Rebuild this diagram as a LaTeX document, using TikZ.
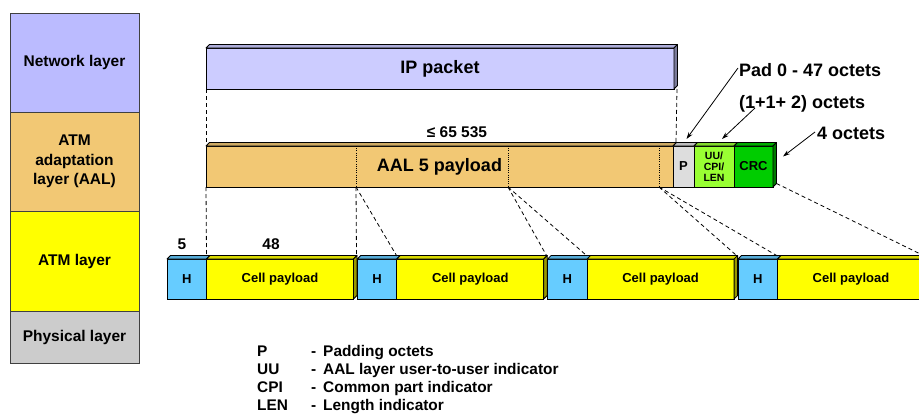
\documentclass[tikz,border=0pt]{standalone}
\usepackage{fontspec}
\setmainfont{Liberation Sans}
\usetikzlibrary{calc,arrows.meta}

\definecolor{netfill}{HTML}{BBBBFF}
\definecolor{ipfill}{HTML}{CCCCFF}
\definecolor{aalfill}{HTML}{F2C874}
\definecolor{atmfill}{HTML}{FFFF00}
\definecolor{phyfill}{HTML}{CCCCCC}
\definecolor{hdrfill}{HTML}{66CCFF}
\definecolor{padfill}{HTML}{DDDDDD}
\definecolor{uufill}{HTML}{99FF33}
\definecolor{crcfill}{HTML}{00CC00}

% depth of the drawn boxes
\newcommand\dep{3.5}
% top face of a box node: #1 node, #2 colour
\newcommand\topface[2]{%
  \filldraw[fill=#2!85!black, draw=black, line width=0.8pt, line join=round]
    (#1.north west) -- ++(\dep,-\dep) -- ($(#1.north east)+(\dep,-\dep)$)
    -- (#1.north east) -- cycle;}
% right face of a box node
\newcommand\sideface[2]{%
  \filldraw[fill=#2!60!black, draw=black, line width=0.8pt, line join=round]
    (#1.north east) -- ++(\dep,-\dep) -- ($(#1.south east)+(\dep,-\dep)$)
    -- (#1.south east) -- cycle;}

\tikzset{
  layerbox/.style={draw=black!75, line width=0.8pt, inner sep=0pt, outer sep=0pt,
    anchor=north west, minimum width=129pt, align=center,
    font=\fontsize{15.5}{19.5}\selectfont\bfseries},
  blk/.style={draw=black, line width=1pt, inner sep=0pt, outer sep=0pt,
    anchor=north west, align=center, minimum height=40pt},
  bigtxt/.style={font=\fontsize{18}{20}\selectfont\bfseries},
  smalltxt/.style={font=\fontsize{13}{15}\selectfont\bfseries},
  numtxt/.style={inner sep=0pt, anchor=base, font=\fontsize{15.5}{18}\selectfont\bfseries},
  calltxt/.style={inner sep=0pt, anchor=base west, font=\fontsize{18}{20}\selectfont\bfseries},
  legtxt/.style={inner sep=0pt, anchor=base west, font=\fontsize{15.4}{18}\selectfont\bfseries},
  dashln/.style={line width=0.8pt, dash pattern=on 4pt off 3pt},
  dotln/.style={line width=0.8pt, dash pattern=on 1pt off 1.2pt},
  callarrow/.style={line width=0.8pt, -{Stealth[length=7pt,width=4.5pt]}},
}

\begin{document}
\begin{tikzpicture}[x=1pt,y=-1pt]
\useasboundingbox (0,0) rectangle (919,415);
\clip (0,0) rectangle (919,415);

% protocol layer stack
\node[layerbox, fill=netfill, minimum height=99pt] (net) at (10,13) {Network layer};
\node[layerbox, fill=aalfill, minimum height=99pt] (aall) at (10,112) {ATM\\adaptation\\layer (AAL)};
\node[layerbox, fill=atmfill, minimum height=100pt] (atml) at (10,211) {ATM layer};
\node[layerbox, fill=phyfill, minimum height=52pt] (phy) at (10,311) {Physical layer};

% IP packet
\node[blk, bigtxt, fill=ipfill, minimum width=468pt, minimum height=41pt] (ip) at (206,48) {IP packet};
\topface{ip}{ipfill}
\sideface{ip}{ipfill}

% AAL 5 PDU
\node[blk, bigtxt, fill=aalfill, minimum width=467pt, minimum height=41pt] (aal) at (206,146) {AAL 5 payload};
\node[blk, smalltxt, fill=padfill, minimum width=21pt, minimum height=41pt] (pbx) at (aal.north east) {P};
\node[blk, fill=uufill, minimum width=40pt, minimum height=41pt,
      font=\fontsize{10.5}{11}\selectfont\bfseries] (uu) at (pbx.north east) {UU/\\CPI/\\LEN};
\node[blk, smalltxt, fill=crcfill, minimum width=39pt, minimum height=41pt] (crc) at (uu.north east) {CRC};
\topface{aal}{aalfill}
\topface{pbx}{padfill}
\topface{uu}{uufill}
\topface{crc}{crcfill}
\sideface{crc}{crcfill}

% cell boundaries inside the payload
\coordinate (d1t) at (356,146); \coordinate (d1b) at (356,187);
\coordinate (d2t) at (508,146); \coordinate (d2b) at (508,187);
\coordinate (d3t) at (659,146); \coordinate (d3b) at (659,187);
\draw[dotln] (d1t) -- (d1b);
\draw[dotln] (d2t) -- (d2b);
\draw[dotln] (d3t) -- (d3b);

% ATM cells
\foreach \i/\x in {1/167,2/357.3,3/547.6,4/738}{
  \node[blk, smalltxt, fill=hdrfill, minimum width=39.5pt] (h\i) at (\x,259) {H};
  \node[blk, smalltxt, fill=atmfill, minimum width=147pt] (c\i) at (h\i.north east) {Cell payload};
  \topface{h\i}{hdrfill}
  \topface{c\i}{atmfill}
  \sideface{c\i}{atmfill}
}

% mapping lines
\draw[dashln] (ip.south west) -- (aal.north west);
\draw[dashln] ($(ip.south east)+(3,0)$) -- ($(pbx.north west)+(3,-3.5)$);
\draw[dashln] (aal.south west) -- ($(c1.north west)+(0,-3)$);
\draw[dashln] (d1b) -- ($(c1.north east)+(3,-3)$);
\draw[dashln] (d1b) -- ($(c2.north west)+(0,-3)$);
\draw[dashln] (d2b) -- ($(c2.north east)+(3,-3)$);
\draw[dashln] (d2b) -- ($(c3.north west)+(0,-3)$);
\draw[dashln] (d3b) -- ($(c3.north east)+(3,-3)$);
\draw[dashln] (d3b) -- ($(c4.north west)+(0,-3)$);
\draw[dashln] ($(crc.south east)+(\dep,-\dep)$) -- ($(c4.north east)+(0,-3)$);

% sizes
\node[numtxt] (len) at (457,137) {≤ 65 535};
\node[numtxt] (n5) at (182,249) {5};
\node[numtxt] (n48) at (271,249) {48};

% trailer callouts
\node[calltxt] (padt) at (739,76) {Pad 0 - 47 octets};
\node[calltxt] (uut) at (739,108) {(1+1+ 2) octets};
\node[calltxt] (crct) at (817,139) {4 octets};
\coordinate (padfrom) at (738,68);
\coordinate (uufrom) at (755,108);
\coordinate (crcfrom) at (815,132);
\draw[callarrow] (padfrom) -- ($(pbx.north)+(3,-7)$);
\draw[callarrow] (uufrom) -- ($(uu.north)+(8,-7)$);
\draw[callarrow] (crcfrom) -- ($(crc.east)+(10,-10)$);

% legend
\foreach \y/\ab/\tx [count=\k] in {356/P/Padding octets,374/UU/AAL layer user-to-user indicator,
    392/CPI/Common part indicator,410/LEN/Length indicator}{
  \node[legtxt] (la\k) at (257,\y) {\ab};
  \node[legtxt] (lt\k) at (311,\y) {-\hspace{0.45em}\tx};
}
\end{tikzpicture}
\end{document}
